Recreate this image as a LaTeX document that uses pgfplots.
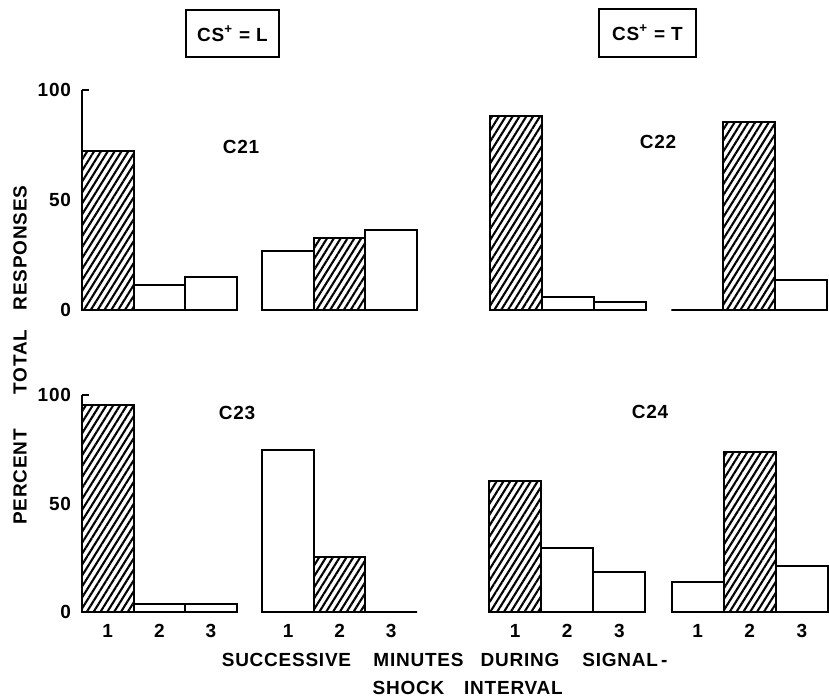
\documentclass[border=0pt]{standalone}
\usepackage{pgfplots}
\pgfplotsset{compat=1.18}
\usetikzlibrary{patterns.meta}
\usepackage{fontspec}
\setmainfont{Liberation Sans}
\newcommand{\ff}{\bfseries\fontsize{9.5}{11}\selectfont\addfontfeature{LetterSpace=4}}
\pgfplotsset{
  panel/.style={scale only axis, ymin=0, ymax=100, xmin=0.5, xmax=7, clip=false,
    axis lines*=left, axis line style={-, line width=1pt},
    x axis line style={draw=none},
    tick style={line width=1pt, black},
    major tick length=0pt, xtick=\empty,
    /pgf/number format/assume math mode=true,
    tick label style={font=\ff},
    yticklabel style={xshift=-2pt},
    xticklabel style={yshift=-2.5pt}},
  leftp/.style={ytick={0,50,100}, yticklabels={0,50,100},
    extra y ticks={100}, extra y tick labels={},
    extra y tick style={major tick length=3.5pt, tick align=inside}},
  rightp/.style={y axis line style={draw=none}, ytick=\empty},
  botp/.style={xtick={1,2,3,4.5,5.5,6.5}, xticklabels={1,2,3,1,2,3}},
  hatch/.style={ybar, bar width=1, bar shift=0pt, draw=black, line width=1pt,
    pattern={Lines[angle=58, distance=2.9pt, line width=1.05pt]}},
  plain/.style={ybar, bar width=1, bar shift=0pt, draw=black, line width=1pt, fill=white},
}
\begin{document}
\begin{tikzpicture}
\useasboundingbox (0,0) rectangle (414.5pt,348pt);
% top-left C21
\begin{axis}[panel, leftp, at={(41pt,193pt)}, anchor=south west, width=167.5pt, height=110pt]
\addplot[plain] coordinates {(2,11.4) (3,15) (4.5,27) (6.5,36.4)};
\addplot[hatch] coordinates {(1,72.4) (5.5,32.7)};
\end{axis}
% top-right C22
\begin{axis}[panel, rightp, at={(245pt,193pt)}, anchor=south west, width=168.5pt, height=110pt]
\addplot[plain] coordinates {(2,6) (3,3.8) (4.5,0) (6.5,13.6)};
\addplot[hatch] coordinates {(1,88.2) (5.5,85.5)};
\end{axis}
% bottom-left C23
\begin{axis}[panel, leftp, botp, at={(41pt,42pt)}, anchor=south west, width=167.5pt, height=108.5pt]
\addplot[plain] coordinates {(2,3.7) (3,3.7) (4.5,74.7) (6.5,0)};
\addplot[hatch] coordinates {(1,95.4) (5.5,25.3)};
\end{axis}
% bottom-right C24
\begin{axis}[panel, rightp, botp, at={(244.5pt,42pt)}, anchor=south west, width=169.5pt, height=108.5pt]
\addplot[plain] coordinates {(2,29.5) (3,18.6) (4.5,13.8) (6.5,21.2)};
\addplot[hatch] coordinates {(1,60.5) (5.5,73.7)};
\end{axis}
% panel labels
\node[font=\ff] at (120.5pt,274.5pt) {C21};
\node[font=\ff] at (329pt,277pt) {C22};
\node[font=\ff] at (118.5pt,141.5pt) {C23};
\node[font=\ff] at (325pt,142pt) {C24};
% header boxes
\node[draw, line width=1pt, minimum width=46.5pt, minimum height=23.5pt, inner sep=0pt, font=\ff] at (116.25pt,331.25pt) {CS\textsuperscript{+} = L};
\node[draw, line width=1pt, minimum width=48.5pt, minimum height=24pt, inner sep=0pt, font=\ff] at (323.75pt,331.5pt) {CS\textsuperscript{+} = T};
% y label
\node[font=\ff, rotate=90] at (10pt,224pt) {RESPONSES};
\node[font=\ff, rotate=90] at (10pt,167pt) {TOTAL};
\node[font=\ff, rotate=90] at (10pt,109.5pt) {PERCENT};
% x label
\node[font=\ff] at (143.25pt,18pt) {SUCCESSIVE};
\node[font=\ff] at (209.25pt,18pt) {MINUTES};
\node[font=\ff] at (260pt,18pt) {DURING};
\node[font=\ff] at (312.5pt,18pt) {SIGNAL\,-};
\node[font=\ff] at (204.25pt,4pt) {SHOCK};
\node[font=\ff] at (256.75pt,4pt) {INTERVAL};
\end{tikzpicture}
\end{document}
